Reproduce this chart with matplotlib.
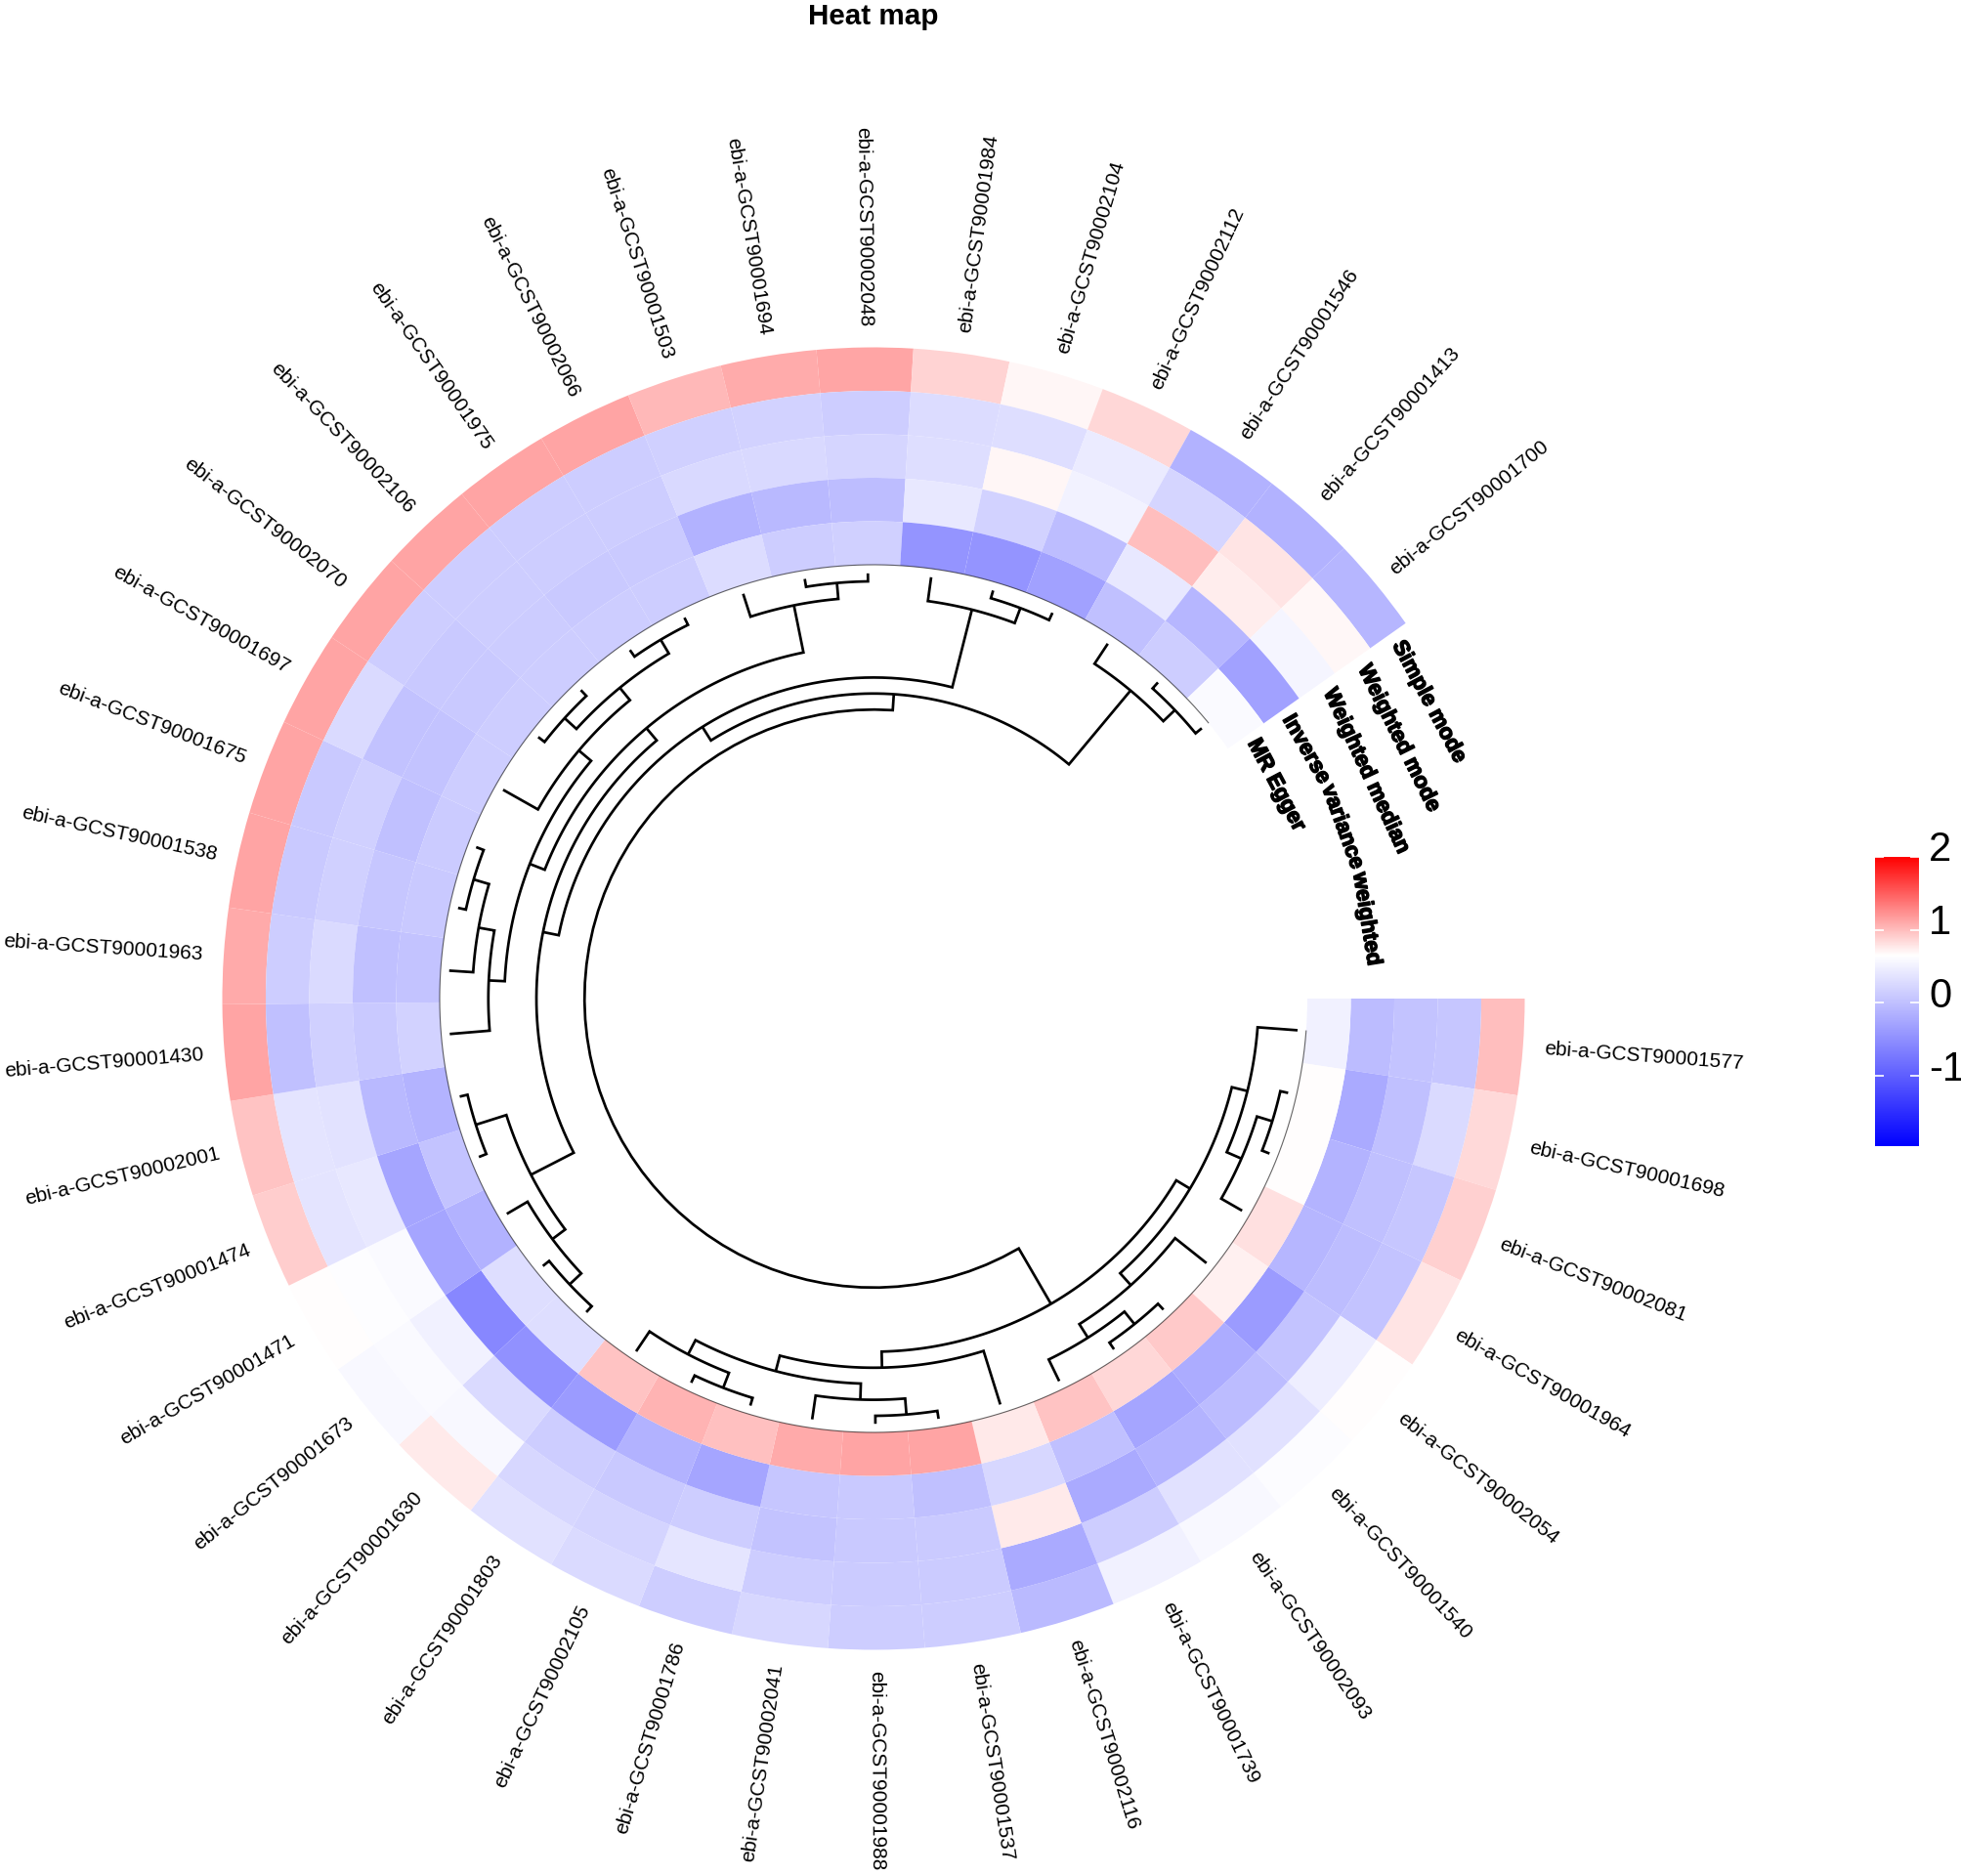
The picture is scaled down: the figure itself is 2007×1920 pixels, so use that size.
import numpy as np
import matplotlib
matplotlib.use('Agg')
import matplotlib.pyplot as plt
import matplotlib.patheffects as pe
from matplotlib.colors import LinearSegmentedColormap, Normalize
from matplotlib.cm import ScalarMappable
from matplotlib.textpath import TextPath
from matplotlib.font_manager import FontProperties

plt.rcParams['font.family'] = ['Liberation Sans', 'DejaVu Sans']

# sectors, clockwise from 3 o'clock
gwas_ids = ['1577', '1698', '2081', '1964', '2054', '1540', '2093', '1739', '2116', '1537',
            '1988', '2041', '1786', '2105', '1803', '1630', '1673', '1471', '1474', '2001',
            '1430', '1963', '1538', '1675', '1697', '2070', '2106', '1975', '2066', '1503',
            '1694', '2048', '1984', '2104', '2112', '1546', '1413', '1700']

simple_mode = [0.99, 0.85, 0.90, 0.79, 0.66, 0.62, 0.57, 0.50, -0.05, 0.14,
               0.14, 0.24, 0.14, 0.27, 0.34, 0.76, 0.58, 0.66, 0.91, 0.97,
               1.13, 1.10, 1.13, 1.13, 1.13, 1.13, 1.13, 1.13, 1.13, 1.02,
               1.09, 1.12, 0.88, 0.70, 0.86, -0.14, -0.14, -0.09]
weighted_mode = [0.06, 0.27, 0.06, 0.04, 0.48, 0.34, 0.34, 0.14, -0.22, 0.12,
                 0.12, 0.14, 0.39, 0.21, 0.24, 0.58, 0.60, 0.63, 0.37, 0.37,
                 0.00, 0.14, 0.09, 0.09, 0.27, 0.14, 0.14, 0.14, 0.14, 0.17,
                 0.19, 0.14, 0.29, 0.31, 0.45, 0.22, 0.79, 0.69]
weighted_median = [0.04, 0.00, 0.00, -0.02, 0.04, -0.04, -0.12, -0.22, 0.76, 0.11,
                   0.09, 0.04, 0.14, 0.09, 0.14, 0.27, 0.50, 0.60, 0.41, 0.36,
                   0.17, 0.27, 0.17, 0.17, 0.02, 0.09, 0.14, 0.14, 0.14, 0.26,
                   0.26, 0.22, 0.31, 0.70, 0.52, 0.99, 0.74, 0.54]
inverse_variance = [-0.04, -0.22, -0.12, -0.09, -0.37, -0.20, -0.27, 0.00, 0.24, 0.00,
                    0.09, 0.06, -0.27, -0.14, -0.37, -0.48, -0.58, -0.27, -0.27, -0.07,
                    0.09, 0.00, 0.06, 0.00, 0.03, 0.10, 0.13, 0.10, 0.11, -0.14,
                    -0.07, -0.02, 0.41, 0.19, -0.02, 0.41, -0.09, -0.32]
mr_egger = [0.50, 0.66, 0.66, 0.81, 0.73, 0.94, 0.86, 0.97, 0.77, 1.13,
            1.13, 1.10, 0.98, 1.05, 0.97, 0.31, 0.31, -0.14, 0.04, -0.12,
            0.19, 0.04, 0.09, 0.12, 0.14, 0.14, 0.14, 0.14, 0.14, 0.29,
            0.14, 0.17, -0.45, -0.45, -0.32, 0.01, 0.14, 0.60]

ring_names = ['Simple mode', 'Weighted mode', 'Weighted median', 'Inverse variance weighted', 'MR Egger']
rings = [simple_mode, weighted_mode, weighted_median, inverse_variance, mr_egger]

# dendrogram: leaves are 0-37, merged nodes number on from 38
merge_left = [1, 38, 0, 5, 41, 4, 40, 9, 45, 12, 47, 46, 8, 44, 15, 52, 18, 53, 22, 21, 20,
              25, 27, 59, 24, 58, 30, 29, 63, 55, 33, 32, 67, 36, 35, 70, 51]
merge_right = [2, 3, 39, 6, 7, 42, 43, 10, 11, 13, 14, 48, 49, 50, 16, 17, 19, 54, 23, 56, 57,
               26, 28, 60, 61, 62, 31, 64, 65, 66, 34, 68, 69, 37, 71, 72, 73]
merge_height = [1, 2, 3, 1, 2, 3, 4, 1, 2, 1, 2, 3, 4, 5, 1, 2, 1, 3, 1, 2, 3,
                1, 1, 2, 3, 4, 1, 2, 5, 6, 1, 2, 7, 1, 2, 8, 9]

leaf_height = 0.5

legend_ticks = [2, 1, 0, -1]
vmin, vmax, vwhite = -1.96, 2.0, 0.65

CX, CY = 894, 1022
WIDTH, HEIGHT = 2008, 1920
RMAX = 800
RING_IN, RING_W = 444, 44.5
CELL = 324.8 / len(gwas_ids)


def height_to_r(h):
    return 443.4 - 16.4 * h


def draw_tree(ax):
    pos = {i: (CELL * (i + 0.5), leaf_height) for i in range(len(gwas_ids))}
    for k in range(len(merge_height)):
        a1, h1 = pos[merge_left[k]]
        a2, h2 = pos[merge_right[k]]
        h = merge_height[k]
        arc = np.linspace(a1, a2, 60)
        theta = np.concatenate([[a1], arc, [a2]])
        r = np.concatenate([[height_to_r(h1)], np.full(60, height_to_r(h)), [height_to_r(h2)]])
        ax.plot(np.radians(theta), r, color='black', lw=1.95, solid_joinstyle='miter',
                solid_capstyle='butt')
        pos[len(gwas_ids) + k] = ((a1 + a2) / 2, h)


def ring_label(ax, name, radius, start_deg):
    # ring names follow the circle, long ones are laid out word by word
    prop = FontProperties(family='Liberation Sans', weight='bold')
    size = 16
    chunks = name.split(' ') if len(name) > 15 else [name]
    space = 0.24 * size * 100 / 72
    angle = start_deg
    for chunk in chunks:
        w = TextPath((0, 0), chunk, size=size, prop=prop).get_extents().width * 100 / 72
        span = np.degrees(w / radius)
        mid = angle + span / 2
        ax.text(np.radians(mid), radius, chunk, fontsize=size, fontweight='bold', rotation=-mid - 90,
                rotation_mode='anchor', ha='center', va='center', color='black',
                path_effects=[pe.withStroke(linewidth=1.1, foreground='black')])
        angle += span + np.degrees(space / radius)


fig = plt.figure(figsize=(WIDTH / 100, HEIGHT / 100), dpi=100)
ax = fig.add_axes([(CX - RMAX) / WIDTH, (HEIGHT - CY - RMAX) / HEIGHT, 2 * RMAX / WIDTH, 2 * RMAX / HEIGHT],
                  projection='polar')
ax.set_theta_direction(-1)
ax.set_theta_offset(0)

cmap = LinearSegmentedColormap.from_list(
    'bwr2', [(0, '#0000ff'), ((vwhite - vmin) / (vmax - vmin), '#ffffff'), (1, '#ff0000')], N=512)
norm = Normalize(vmin, vmax)

n = len(gwas_ids)
left = np.radians(CELL * np.arange(n))
for j, values in enumerate(rings):
    bottom = RING_IN + RING_W * (4 - j)
    ax.bar(left, RING_W, width=np.radians(CELL), bottom=bottom, align='edge',
           color=cmap(norm(np.array(values))), linewidth=0)

draw_tree(ax)

# thin line on the inner edge, from first to last leaf
edge = np.linspace(CELL * 0.5, CELL * (n - 0.5), 800)
ax.plot(np.radians(edge), np.full(800, RING_IN), color='black', lw=0.8, alpha=0.6)

for i, gid in enumerate(gwas_ids):
    cw = CELL * (i + 0.5)
    math_angle = -cw
    if np.cos(np.radians(cw)) >= 0:
        rot, ha = math_angle, 'left'
    else:
        rot, ha = math_angle + 180, 'right'
    ax.text(np.radians(cw), 688, 'ebi-a-GCST9000' + gid, fontsize=15, rotation=rot,
            rotation_mode='anchor', ha=ha, va='center', color='black')

for j, name in enumerate(ring_names):
    ring_label(ax, name, RING_IN + RING_W * (4.5 - j), 325.8)

ax.set_rlim(0, RMAX)
ax.axis('off')

fig.text(CX / WIDTH, 1 - 17 / HEIGHT, 'Heat map', fontsize=21.3, fontweight='bold', ha='center', va='center')

# colour key
cax = fig.add_axes([1919 / WIDTH, 1 - 1173 / HEIGHT, 45 / WIDTH, 296 / HEIGHT])
cb = fig.colorbar(ScalarMappable(norm=norm, cmap=cmap), cax=cax)
cb.outline.set_visible(False)
cb.set_ticks(legend_ticks)
cax.tick_params(left=True, right=True, direction='in', color='white', length=6.5, width=1.2,
                labelleft=False, labelright=False)
for v in legend_ticks:
    cax.text(1.22, v + 0.09, str(v), transform=cax.get_yaxis_transform(), fontsize=30,
             ha='left', va='center', color='black', clip_on=False)

fig.savefig('out.png', dpi=100, facecolor='white')
